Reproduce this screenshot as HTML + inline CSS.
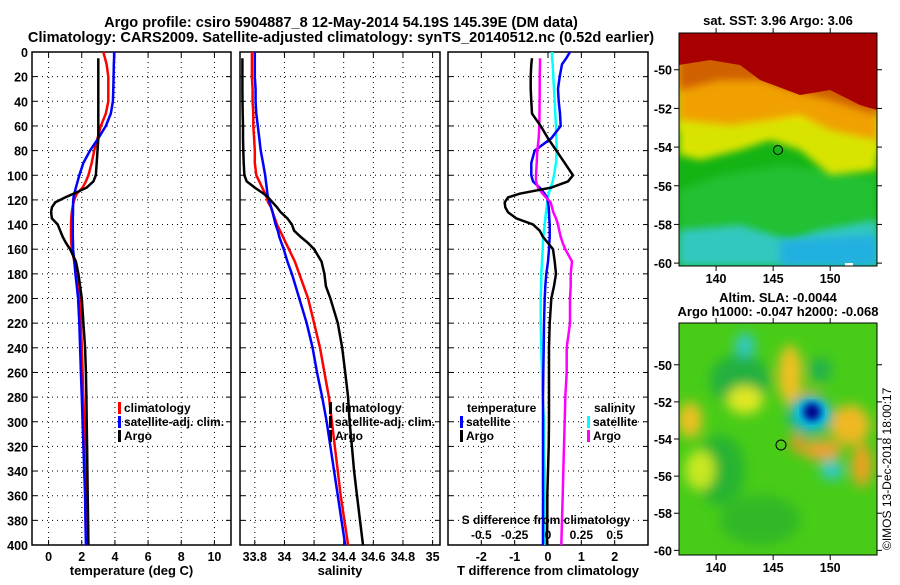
<!DOCTYPE html>
<html><head><meta charset="utf-8">
<style>
body{margin:0;background:#fff;}
svg text{font-family:"Liberation Sans",sans-serif;font-weight:bold;fill:#000;}
</style></head>
<body>
<svg id="s" width="900" height="580" viewBox="0 0 900 580" xmlns="http://www.w3.org/2000/svg">
<defs>
<filter id="blur" x="-20%" y="-20%" width="140%" height="140%"><feGaussianBlur stdDeviation="4"/></filter>
<filter id="blur2" x="-20%" y="-20%" width="140%" height="140%"><feGaussianBlur stdDeviation="6"/></filter>
<clipPath id="c1"><rect x="679" y="33" width="198" height="233"/></clipPath>
<clipPath id="c2"><rect x="679" y="323" width="198" height="232"/></clipPath>
</defs>
<text x="341" y="27" text-anchor="middle" font-size="14.6">Argo profile: csiro 5904887_8 12-May-2014 54.19S 145.39E (DM data)</text>
<text x="341" y="42" text-anchor="middle" font-size="14.6">Climatology: CARS2009. Satellite-adjusted climatology: synTS_20140512.nc (0.52d earlier)</text>
<g id="plots"></g>
<!-- top SST map -->
<g clip-path="url(#c1)">
<rect x="679" y="33" width="198" height="233" fill="#14b414"/>
<polygon points="679,190 720,175 780,165 840,170 877,178 877,266 679,266" fill="#22c030" filter="url(#blur)"/>
<polygon points="679,230 740,225 790,240 820,230 877,220 877,266 679,266" fill="#30c8c0" filter="url(#blur)"/>
<polygon points="780,240 877,235 877,266 780,266" fill="#20b0e0" filter="url(#blur)"/>
<polygon points="679,130 720,140 760,135 790,130 830,150 877,155 877,33 679,33" fill="#e8e800" filter="url(#blur)"/>
<polygon points="679,155 700,160 740,150 770,140 800,150 830,175 860,172 877,170 877,120 679,120" fill="#d8e400" filter="url(#blur)"/>
<polygon points="679,120 730,125 770,120 800,115 830,130 877,140 877,33 679,33" fill="#f0a000" filter="url(#blur)"/>
<polygon points="679,90 720,80 760,80 790,90 830,100 877,115 877,33 679,33" fill="#d06000" filter="url(#blur)"/>
<polygon points="679,65 710,60 740,65 760,80 800,95 830,90 860,105 877,110 877,33 679,33" fill="#a80000"/>
<rect x="845" y="263" width="8" height="6" fill="#fff"/>
<circle cx="778" cy="150" r="4.5" fill="#18b418" stroke="#000" stroke-width="1"/>
</g>
<rect x="679" y="33" width="198" height="233" fill="none" stroke="#000"/>
<text x="778" y="25" text-anchor="middle" font-size="13">sat. SST: 3.96 Argo: 3.06</text>
<!-- bottom SLA map -->
<g clip-path="url(#c2)">
<rect x="679" y="323" width="198" height="232" fill="#48cc18"/>
<g filter="url(#blur2)">
<ellipse cx="740" cy="380" rx="30" ry="25" fill="#20b040"/>
<ellipse cx="720" cy="470" rx="25" ry="35" fill="#28b430"/>
<ellipse cx="760" cy="520" rx="40" ry="25" fill="#30b828"/>
<ellipse cx="745" cy="345" rx="10" ry="12" fill="#30c8c8"/>
<ellipse cx="745" cy="400" rx="18" ry="14" fill="#e0e820"/>
<ellipse cx="700" cy="470" rx="15" ry="20" fill="#c8e820"/>
<ellipse cx="690" cy="420" rx="12" ry="18" fill="#f0c020"/>
<ellipse cx="790" cy="375" rx="12" ry="30" fill="#f0c020"/>
<ellipse cx="810" cy="400" rx="12" ry="10" fill="#f0a020"/>
<ellipse cx="850" cy="425" rx="20" ry="20" fill="#f0b820"/>
<ellipse cx="810" cy="415" rx="22" ry="20" fill="#20b0b0"/>
<ellipse cx="822" cy="450" rx="20" ry="10" fill="#f0a030"/>
<ellipse cx="797" cy="443" rx="6" ry="10" fill="#f09020"/>
<ellipse cx="832" cy="470" rx="12" ry="10" fill="#30c8c8"/>
<ellipse cx="862" cy="465" rx="10" ry="22" fill="#f0a020"/>
<ellipse cx="820" cy="370" rx="12" ry="12" fill="#20b050"/>
</g>
<ellipse cx="812" cy="413" rx="15" ry="13" fill="#00c8f0" filter="url(#blur)"/>
<ellipse cx="812" cy="412" rx="9" ry="9" fill="#00008a" filter="url(#blur)"/>
<circle cx="781" cy="445" r="5" fill="none" stroke="#000" stroke-width="1"/>
</g>
<rect x="679" y="323" width="198" height="232" fill="none" stroke="#000"/>
<text x="778" y="302" text-anchor="middle" font-size="13">Altim. SLA: -0.0044</text>
<text x="778" y="316" text-anchor="middle" font-size="13">Argo h1000: -0.047 h2000: -0.068</text>
<text transform="translate(891,550) rotate(-90)" font-size="12" style="font-weight:normal">©IMOS 13-Dec-2018 18:00:17</text>
<g id="maps-axes"></g>
</svg>
<script>
// depth grid (dbar)
const depths=[0,5,10,20,30,40,50,60,70,80,90,100,105,110,115,118,122,126,130,135,140,145,150,155,160,170,180,190,200,220,240,260,280,300,320,340,360,380,400];
// temperature (deg C)
const tClim=[3.3,3.4,3.5,3.6,3.6,3.6,3.45,3.15,2.95,2.75,2.6,2.4,2.25,2.05,1.7,1.6,1.5,1.45,1.4,1.37,1.35,1.35,1.35,1.37,1.4,1.55,1.7,1.8,1.9,1.95,2.0,2.05,2.1,2.15,2.2,2.25,2.3,2.35,2.4];
const tSat=[3.95,3.95,3.93,3.92,3.9,3.88,3.75,3.45,3.0,2.5,2.1,1.85,1.75,1.65,1.55,1.5,1.48,1.47,1.47,1.46,1.46,1.46,1.46,1.47,1.48,1.55,1.62,1.7,1.78,1.85,1.9,1.95,2.0,2.05,2.1,2.15,2.2,2.22,2.25];
const tArgo=[null,3.0,3.0,3.0,3.0,3.0,3.0,3.0,3.0,2.95,2.9,2.85,2.7,2.3,1.5,1.0,0.4,0.2,0.15,0.2,0.55,0.7,0.85,1.05,1.3,1.65,1.8,1.9,2.0,2.1,2.2,2.25,2.28,2.3,2.32,2.34,2.36,2.38,2.4];
// salinity
const sClim=[33.78,33.78,33.78,33.78,33.785,33.785,33.79,33.79,33.795,33.8,33.8,33.81,33.83,33.85,33.87,33.88,33.89,33.91,33.92,33.935,33.95,33.97,33.99,34.01,34.03,34.07,34.1,34.13,34.16,34.2,34.24,34.27,34.3,34.32,34.34,34.36,34.38,34.405,34.43];
const sSat=[33.8,33.8,33.8,33.8,33.805,33.805,33.81,33.82,33.83,33.84,33.855,33.87,33.875,33.88,33.885,33.89,33.9,33.91,33.92,33.93,33.94,33.955,33.965,33.98,33.995,34.02,34.05,34.075,34.1,34.15,34.19,34.22,34.255,34.285,34.31,34.335,34.36,34.385,34.41];
const sArgo=[null,33.716,33.716,33.716,33.716,33.717,33.718,33.72,33.72,33.722,33.725,33.73,33.745,33.8,33.86,33.89,33.92,33.95,33.975,34.02,34.05,34.065,34.11,34.16,34.2,34.25,34.27,34.28,34.31,34.36,34.39,34.41,34.43,34.44,34.455,34.47,34.49,34.51,34.53];
// T difference from climatology
const dTSat=[0.66,0.55,0.42,0.35,0.3,0.32,0.36,0.38,0.1,-0.4,-0.5,-0.5,-0.45,-0.25,-0.1,-0.03,0.0,0.02,0.03,0.04,0.05,0.05,0.05,0.04,0.03,0.0,-0.05,-0.08,-0.1,-0.12,-0.13,-0.14,-0.15,-0.15,-0.15,-0.15,-0.15,-0.15,-0.15];
const dTArgo=[null,-0.48,-0.5,-0.52,-0.52,-0.5,-0.48,-0.22,0.0,0.25,0.5,0.75,0.6,0.1,-0.85,-1.2,-1.3,-1.28,-1.2,-0.95,-0.45,-0.25,-0.15,0.0,0.15,0.2,0.24,0.18,0.1,0.05,0.03,0.03,0.03,0.03,0.02,0.0,-0.02,-0.02,-0.03];
// S difference from climatology
const dSSat=[0.03,0.03,0.035,0.04,0.045,0.05,0.055,0.06,0.062,0.065,0.06,0.045,0.035,0.02,0.005,0.0,-0.005,-0.01,-0.015,-0.02,-0.025,-0.03,-0.035,-0.038,-0.04,-0.045,-0.05,-0.052,-0.055,-0.055,-0.05,-0.045,-0.04,-0.03,-0.03,-0.025,-0.025,-0.02,-0.02];
const dSArgo=[null,-0.06,-0.06,-0.062,-0.062,-0.063,-0.064,-0.065,-0.07,-0.08,-0.085,-0.09,-0.09,-0.075,-0.04,-0.015,0.02,0.03,0.04,0.06,0.075,0.085,0.095,0.11,0.13,0.18,0.17,0.17,0.165,0.165,0.14,0.14,0.13,0.125,0.12,0.115,0.11,0.105,0.1];
const tTicks=[0,2,4,6,8,10];
const sTicks=[33.8,34,34.2,34.4,34.6,34.8,35];
const dTicks=[-2,-1,0,1,2];
const dsTicks=[-0.5,-0.25,0,0.25,0.5];
const depthTicks=[0,20,40,60,80,100,120,140,160,180,200,220,240,260,280,300,320,340,360,380,400];
const sstLat=[-50,-52,-54,-56,-58,-60];
const lonTicks=[140,145,150];

const NS='http://www.w3.org/2000/svg';
const root=document.getElementById('plots');
const Y0=52,Y1=545;
const yOf=d=>Y0+d/400*(Y1-Y0);
function el(tag,attrs,parent){const e=document.createElementNS(NS,tag);for(const k in attrs)e.setAttribute(k,attrs[k]);(parent||root).appendChild(e);return e;}
function panel(x0,x1,vmin,vmax,ticks,label,name){
  const xOf=v=>x0+(v-vmin)/(vmax-vmin)*(x1-x0);
  const g=el('g',{});
  
  
  ticks.forEach(t=>{const l=el('line',{x1:xOf(t),x2:xOf(t),y1:Y0,y2:Y1,stroke:'#000','stroke-width':1,'stroke-dasharray':'1,4'},g);
    
    el('line',{x1:xOf(t),x2:xOf(t),y1:Y1,y2:Y1-5,stroke:'#000'},g);el('line',{x1:xOf(t),x2:xOf(t),y1:Y0,y2:Y0+5,stroke:'#000'},g);
    const tx=el('text',{x:xOf(t),y:Y1+16,'text-anchor':'middle','font-size':12.5},g);tx.textContent=String(t);
    });
  depthTicks.forEach(d=>{if(d>0&&d<400){const l=el('line',{x1:x0,x2:x1,y1:yOf(d),y2:yOf(d),stroke:'#000','stroke-dasharray':'1,4'},g);
    }
    el('line',{x1:x0,x2:x0+5,y1:yOf(d),y2:yOf(d),stroke:'#000'},g);el('line',{x1:x1-5,x2:x1,y1:yOf(d),y2:yOf(d),stroke:'#000'},g);});
  const r=el('rect',{x:x0,y:Y0,width:x1-x0,height:Y1-Y0,fill:'none',stroke:'#000','stroke-width':1.5},g);
  
  const lb=el('text',{x:(x0+x1)/2,y:575,'text-anchor':'middle','font-size':13},g);lb.textContent=label;
  
  return {xOf,g};
}
function line(p,vals,color,name,xf){
  let d='';vals.forEach((v,i)=>{if(v==null)return;d+=(d?'L':'M')+(xf||p.xOf)(v).toFixed(1)+','+yOf(depths[i]).toFixed(1);});
  const e=el('path',{d,fill:'none',stroke:color,'stroke-width':2.5},p.g);
  
}
function legend(g,x,y,color,text,name){
  el('rect',{x:x,y:y-10,width:3,height:12,fill:color},g);
  const t=el('text',{x:x+6,y:y,'font-size':12},g);t.textContent=text;
  
}
// depth axis labels
depthTicks.forEach(d=>{const t=el('text',{x:28,y:yOf(d)+5,'text-anchor':'end','font-size':12.5});t.textContent=String(d);
  });
const p1=panel(32,231,-1,11,tTicks,'temperature (deg C)','temperature-panel');
line(p1,tClim,'#f00','temp-climatology-line');line(p1,tSat,'#00f','temp-satellite-line');line(p1,tArgo,'#000','temp-argo-line');
legend(p1.g,118,412,'#f00','climatology','legend-climatology');legend(p1.g,118,426,'#00f','satellite-adj. clim.','legend-satellite');legend(p1.g,118,440,'#000','Argo','legend-argo');
const p2=panel(240,440,33.7,35.05,sTicks,'salinity','salinity-panel');
line(p2,sClim,'#f00','sal-climatology-line');line(p2,sSat,'#00f','sal-satellite-line');line(p2,sArgo,'#000','sal-argo-line');
legend(p2.g,329,412,'#000','climatology','legend-climatology-s');legend(p2.g,329,426,'#000','satellite-adj. clim.','legend-satellite-s');legend(p2.g,329,440,'#000','Argo','legend-argo-s');
const p3=panel(448,648,-3,3,dTicks,'T difference from climatology','difference-panel');
const sx=v=>548+v/0.75*100;
line(p3,dSSat,'#0ff','sdiff-satellite-line',sx);line(p3,dTSat,'#00f','tdiff-satellite-line');
line(p3,dSArgo,'#f0f','sdiff-argo-line',sx);line(p3,dTArgo,'#000','tdiff-argo-line');
{const t=el('text',{x:467,y:412,'font-size':12},p3.g);t.textContent='temperature';}
legend(p3.g,460,426,'#00f','satellite','legend-t-satellite');legend(p3.g,460,440,'#000','Argo','legend-t-argo');
{const t=el('text',{x:594,y:412,'font-size':12},p3.g);t.textContent='salinity';}
legend(p3.g,587,426,'#0ff','satellite','legend-s-satellite');legend(p3.g,587,440,'#f0f','Argo','legend-s-argo');
{const t=el('text',{x:546,y:524,'text-anchor':'middle','font-size':12},p3.g);t.textContent='S difference from climatology';}
dsTicks.forEach(v=>{const t=el('text',{x:sx(v),y:539,'text-anchor':'middle','font-size':12},p3.g);t.textContent=String(v);});
// map axes
const ma=document.getElementById('maps-axes');
function mapAxes(top,bot,latTop,latBot,name){
  const g=el('g',{},ma);
  const yL=l=>top+(latTop-l)/(latTop-latBot)*(bot-top);
  const xL=l=>679+(l-136.75)/(154.1-136.75)*198;
  sstLat.forEach(l=>{el('line',{x1:674,x2:679,y1:yL(l),y2:yL(l),stroke:'#000'},g);el('line',{x1:877,x2:882,y1:yL(l),y2:yL(l),stroke:'#000'},g);
    const t=el('text',{x:672,y:yL(l)+5,'text-anchor':'end','font-size':12.5},g);t.textContent=String(l);
    });
  lonTicks.forEach(l=>{el('line',{x1:xL(l),x2:xL(l),y1:bot,y2:bot+5,stroke:'#000'},g);el('line',{x1:xL(l),x2:xL(l),y1:top-5,y2:top,stroke:'#000'},g);
    const t=el('text',{x:xL(l),y:bot+17,'text-anchor':'middle','font-size':12.5},g);t.textContent=String(l);
    });
}
mapAxes(33,266,-48.1,-60.15,'sst-map-axes');
mapAxes(323,555,-47.75,-60.25,'sla-map-axes');
</script>
</body></html>
